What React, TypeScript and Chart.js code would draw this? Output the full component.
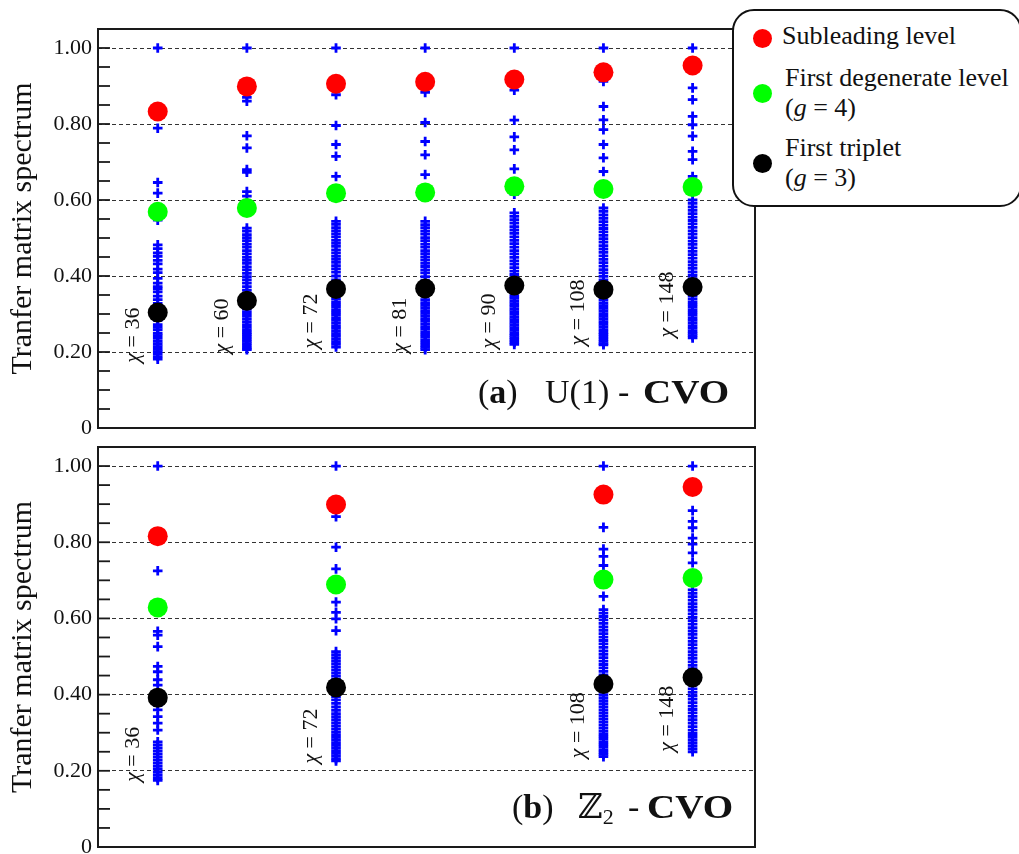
import { useEffect, useRef } from 'react'
import { Chart, registerables } from 'chart.js'

Chart.register(...registerables)

const SERIF = "'Liberation Serif', 'DejaVu Serif', serif"

// ---- panel (a): U(1) - CVO ----
const chiTop = [36, 60, 72, 81, 90, 108, 148]
const posTop = [0, 1, 2, 3, 4, 5, 6]
const subleadingTop = [0.833, 0.899, 0.906, 0.911, 0.917, 0.936, 0.954]
const degenerateTop = [0.569, 0.579, 0.618, 0.62, 0.636, 0.629, 0.634]
const tripletTop = [0.304, 0.335, 0.366, 0.367, 0.375, 0.364, 0.371]
const chiLabelAtTop = [0.172, 0.196, 0.209, 0.198, 0.209, 0.217, 0.238]
const spectrumTop = [
  [1.0, 0.789, 0.646, 0.618, 0.547, 0.482, 0.472, 0.461, 0.452, 0.441, 0.432, 0.418, 0.409, 0.394, 0.381, 0.372, 0.366, 0.358, 0.347, 0.338, 0.328, 0.316, 0.305, 0.292, 0.283, 0.272, 0.265, 0.258, 0.249, 0.243, 0.236, 0.228, 0.221, 0.214, 0.207, 0.201, 0.195, 0.188, 0.181],
  [1.0, 0.87, 0.86, 0.769, 0.737, 0.68, 0.673, 0.622, 0.61, 0.526, 0.518, 0.509, 0.501, 0.493, 0.484, 0.476, 0.467, 0.458, 0.449, 0.441, 0.433, 0.424, 0.416, 0.407, 0.398, 0.39, 0.381, 0.372, 0.363, 0.355, 0.346, 0.337, 0.329, 0.32, 0.312, 0.304, 0.296, 0.288, 0.28, 0.272, 0.265, 0.258, 0.252, 0.246, 0.24, 0.234, 0.228, 0.222, 0.216, 0.21, 0.206],
  [1.0, 0.877, 0.796, 0.746, 0.715, 0.662, 0.544, 0.536, 0.527, 0.519, 0.511, 0.503, 0.494, 0.486, 0.478, 0.469, 0.461, 0.452, 0.444, 0.436, 0.427, 0.419, 0.41, 0.4, 0.39, 0.38, 0.37, 0.36, 0.35, 0.34, 0.332, 0.325, 0.318, 0.311, 0.304, 0.297, 0.29, 0.283, 0.276, 0.269, 0.262, 0.255, 0.248, 0.241, 0.234, 0.227, 0.22, 0.213],
  [1.0, 0.883, 0.804, 0.754, 0.719, 0.667, 0.544, 0.535, 0.527, 0.518, 0.51, 0.501, 0.493, 0.484, 0.476, 0.467, 0.459, 0.45, 0.442, 0.433, 0.425, 0.416, 0.408, 0.398, 0.388, 0.378, 0.368, 0.358, 0.348, 0.338, 0.33, 0.323, 0.316, 0.309, 0.302, 0.295, 0.288, 0.281, 0.274, 0.267, 0.26, 0.253, 0.246, 0.239, 0.232, 0.225, 0.218, 0.212, 0.206],
  [1.0, 0.889, 0.81, 0.766, 0.732, 0.682, 0.615, 0.566, 0.557, 0.548, 0.539, 0.53, 0.521, 0.512, 0.503, 0.494, 0.485, 0.476, 0.467, 0.458, 0.449, 0.44, 0.431, 0.422, 0.413, 0.404, 0.395, 0.385, 0.375, 0.365, 0.356, 0.348, 0.341, 0.334, 0.327, 0.32, 0.313, 0.306, 0.299, 0.292, 0.285, 0.278, 0.271, 0.264, 0.257, 0.25, 0.244, 0.238, 0.232, 0.226, 0.22],
  [1.0, 0.912, 0.846, 0.811, 0.785, 0.746, 0.711, 0.675, 0.579, 0.57, 0.561, 0.552, 0.543, 0.534, 0.525, 0.516, 0.507, 0.498, 0.489, 0.48, 0.471, 0.462, 0.453, 0.444, 0.435, 0.426, 0.417, 0.408, 0.399, 0.39, 0.381, 0.372, 0.363, 0.354, 0.345, 0.337, 0.329, 0.322, 0.315, 0.308, 0.301, 0.294, 0.287, 0.28, 0.273, 0.266, 0.259, 0.252, 0.246, 0.24, 0.234, 0.228, 0.222, 0.219],
  [1.0, 0.895, 0.864, 0.82, 0.798, 0.768, 0.728, 0.706, 0.662, 0.6, 0.591, 0.582, 0.573, 0.564, 0.555, 0.546, 0.537, 0.528, 0.519, 0.51, 0.501, 0.492, 0.483, 0.474, 0.465, 0.456, 0.447, 0.438, 0.429, 0.42, 0.411, 0.402, 0.393, 0.384, 0.375, 0.366, 0.357, 0.348, 0.34, 0.332, 0.325, 0.318, 0.311, 0.304, 0.297, 0.29, 0.283, 0.276, 0.269, 0.262, 0.255, 0.249, 0.243, 0.237],
]

// ---- panel (b): Z2 - CVO ----
const chiBottom = [36, 72, 108, 148]
const posBottom = [0, 2, 5, 6]
const subleadingBottom = [0.816, 0.899, 0.925, 0.945]
const degenerateBottom = [0.629, 0.689, 0.702, 0.706]
const tripletBottom = [0.392, 0.419, 0.428, 0.445]
const chiLabelAtBottom = [0.171, 0.219, 0.233, 0.25]
const spectrumBottom = [
  [1.0, 0.725, 0.566, 0.556, 0.526, 0.474, 0.46, 0.439, 0.425, 0.405, 0.385, 0.372, 0.36, 0.342, 0.325, 0.307, 0.276, 0.268, 0.26, 0.252, 0.244, 0.236, 0.228, 0.22, 0.212, 0.204, 0.196, 0.188, 0.181, 0.175],
  [1.0, 0.867, 0.787, 0.73, 0.643, 0.616, 0.599, 0.568, 0.513, 0.505, 0.497, 0.489, 0.481, 0.473, 0.465, 0.457, 0.449, 0.441, 0.433, 0.425, 0.415, 0.405, 0.395, 0.386, 0.377, 0.368, 0.359, 0.35, 0.342, 0.334, 0.326, 0.318, 0.31, 0.302, 0.295, 0.288, 0.281, 0.274, 0.267, 0.26, 0.253, 0.246, 0.239, 0.232, 0.226],
  [1.0, 0.839, 0.782, 0.763, 0.739, 0.658, 0.623, 0.614, 0.605, 0.596, 0.587, 0.578, 0.569, 0.56, 0.551, 0.542, 0.533, 0.524, 0.515, 0.506, 0.497, 0.488, 0.479, 0.47, 0.461, 0.452, 0.443, 0.434, 0.42, 0.41, 0.4, 0.392, 0.384, 0.376, 0.368, 0.36, 0.352, 0.344, 0.336, 0.328, 0.32, 0.312, 0.304, 0.297, 0.29, 0.283, 0.276, 0.269, 0.262, 0.255, 0.249, 0.243, 0.237],
  [1.0, 0.883, 0.855, 0.838, 0.811, 0.795, 0.772, 0.746, 0.675, 0.666, 0.657, 0.648, 0.639, 0.63, 0.621, 0.612, 0.603, 0.594, 0.585, 0.576, 0.567, 0.558, 0.549, 0.54, 0.531, 0.522, 0.513, 0.504, 0.495, 0.486, 0.477, 0.468, 0.459, 0.45, 0.435, 0.425, 0.415, 0.406, 0.397, 0.388, 0.379, 0.37, 0.361, 0.352, 0.343, 0.334, 0.325, 0.316, 0.307, 0.298, 0.29, 0.282, 0.274, 0.266, 0.258, 0.25],
]

const yLabels = ['0', '0.20', '0.40', '0.60', '0.80', '1.00']
const legendItems = [
  { color: '#ff0000', lines: ['Subleading level'] },
  { color: '#00ff00', lines: ['First degenerate level', '(g = 4)'] },
  { color: '#000000', lines: ['First triplet', '(g = 3)'] },
]

// title pieces; `at` = distance of the piece's left edge from the plot's right edge
type Seg = { t: string; bold?: boolean; sub?: boolean; at?: number; stretch?: number }
const titleTop: Seg[] = [
  { t: '(', at: 277 }, { t: 'a', bold: true }, { t: ')' },
  { t: 'U(1)', at: 210 }, { t: '-', at: 137 }, { t: 'CVO', bold: true, at: 112, stretch: 1.15 },
]
const titleBottom: Seg[] = [
  { t: '(', at: 243 }, { t: 'b', bold: true }, { t: ')' },
  { t: 'ℤ', at: 177 }, { t: '2', sub: true }, { t: '-', at: 127 }, { t: 'CVO', bold: true, at: 108, stretch: 1.15 },
]

type PanelProps = {
  chi: number[]; pos: number[]; red: number[]; green: number[]; black: number[]
  spectrum: number[][]; labelAt: number[]; title: Seg[]; titleRise: number
  top: number; height: number; padTop: number; padBottom: number
}

function Panel(p: PanelProps) {
  const canvasRef = useRef<HTMLCanvasElement>(null)
  const chartRef = useRef<any>(null)

  useEffect(() => {
    if (!canvasRef.current) return
    if (chartRef.current) chartRef.current.destroy()

    const pts = (vals: number[]) => vals.map((v, i) => ({ x: p.pos[i], y: v }))
    const crosses = p.spectrum.flatMap((col, i) => col.map(v => ({ x: p.pos[i], y: v })))

    const decor = {
      id: 'decor',
      afterDraw(chart: any) {
        const { ctx, chartArea: a, scales } = chart
        const x = scales.x, y = scales.y
        ctx.save()
        // inward ticks every 0.05
        ctx.strokeStyle = '#1a1a1a'
        ctx.lineWidth = 1.8
        for (const t of y.ticks) {
          const py = y.getPixelForValue(t.value)
          ctx.beginPath(); ctx.moveTo(a.left, py); ctx.lineTo(a.left + 12, py); ctx.stroke()
        }
        ctx.lineWidth = 2
        ctx.strokeRect(a.left, a.top, a.right - a.left, a.bottom - a.top)

        // chi labels, rotated
        ctx.fillStyle = '#111'
        ctx.textBaseline = 'middle'
        ctx.textAlign = 'left'
        p.chi.forEach((c, i) => {
          const px = x.getPixelForValue(p.pos[i]) - 25
          const py = y.getPixelForValue(p.labelAt[i])
          ctx.save()
          ctx.translate(px, py)
          ctx.rotate(-Math.PI / 2)
          ctx.font = `italic 22px ${SERIF}`
          ctx.fillText('χ', 0, 0)
          const w = ctx.measureText('χ').width
          ctx.font = `22px ${SERIF}`
          ctx.fillText(` = ${c}`, w, 0)
          ctx.restore()
        })

        // panel title
        const base = a.bottom - p.titleRise
        ctx.textBaseline = 'alphabetic'
        let cx = a.right
        for (const s of p.title) {
          ctx.font = s.sub ? `22px ${SERIF}` : `${s.bold ? 'bold ' : ''}34px ${SERIF}`
          if (s.at !== undefined) cx = a.right - s.at
          const k = s.stretch || 1
          ctx.save()
          ctx.translate(cx, s.sub ? base + 6 : base)
          ctx.scale(k, 1)
          ctx.fillText(s.t, 0, 0)
          ctx.restore()
          cx += ctx.measureText(s.t).width * k
        }
        ctx.restore()
      },
    }

    chartRef.current = new Chart(canvasRef.current, {
      type: 'scatter',
      data: {
        datasets: [
          { label: 'Subleading level', data: pts(p.red), backgroundColor: '#ff0000', borderWidth: 0, pointRadius: 10 },
          { label: 'First degenerate level', data: pts(p.green), backgroundColor: '#00ff00', borderWidth: 0, pointRadius: 10 },
          { label: 'First triplet', data: pts(p.black), backgroundColor: '#000000', borderWidth: 0, pointRadius: 10 },
          { label: 'spectrum', data: crosses, pointStyle: 'cross', borderColor: '#0000ff', backgroundColor: '#0000ff', borderWidth: 2.8, pointRadius: 4.8 },
        ],
      },
      options: {
        responsive: true,
        maintainAspectRatio: false,
        animation: false,
        events: [],
        layout: { autoPadding: false, padding: { top: p.padTop, right: 264, bottom: p.padBottom, left: 0 } },
        plugins: { legend: { display: false }, tooltip: { enabled: false } },
        scales: {
          x: { type: 'linear', min: -0.67, max: 6.7, display: false },
          y: {
            min: 0,
            max: 1.05,
            afterFit: (s: any) => { s.width = 98; s.paddingTop = 0; s.paddingBottom = 0 },
            border: { display: false, dash: [4, 3] },
            grid: {
              drawTicks: false,
              lineWidth: 1,
              color: (ctx: any) => {
                const r = Math.round(ctx.tick.value * 100)
                return r > 0 && r <= 100 && r % 20 === 0 ? '#333' : 'rgba(0,0,0,0)'
              },
            },
            ticks: {
              stepSize: 0.05,
              autoSkip: false,
              padding: 6,
              color: '#111',
              font: { family: SERIF, size: 22 },
              callback: (v: any) => {
                const r = Math.round(Number(v) * 100)
                return r % 20 === 0 && r <= 100 ? yLabels[r / 20] : ''
              },
            },
            title: {
              display: true,
              text: 'Tranfer matrix spectrum',
              color: '#111',
              font: { family: SERIF, size: 30 },
              padding: { top: 5, bottom: 0 },
            },
          },
        },
      },
      plugins: [decor],
    } as any)

    return () => { if (chartRef.current) chartRef.current.destroy() }
  }, [])

  return (
    <div style={{ position: 'absolute', left: 0, top: p.top, width: 1019, height: p.height }}>
      <canvas ref={canvasRef} />
    </div>
  )
}

function Legend() {
  const markerTop = [17.5, 72.5, 142.5]
  const textTop = [10.2, 52.2, 122.2]
  return (
    <div style={{
      position: 'absolute', left: 732, top: 9, width: 290, height: 198, boxSizing: 'border-box',
      border: '2px solid #111', borderRadius: 22, background: '#fff', overflow: 'hidden',
      fontFamily: SERIF, fontSize: 26, color: '#111', lineHeight: '30px',
    }}>
      {legendItems.map((it, i) => (
        <div key={i}>
          <div style={{ position: 'absolute', left: 18.5, top: markerTop[i], width: 19, height: 19, borderRadius: '50%', background: it.color }} />
          <div style={{ position: 'absolute', left: i === 0 ? 48 : 51, top: textTop[i], whiteSpace: 'nowrap' }}>
            {it.lines.map((l, j) => (
              <div key={j}>{l.startsWith('(g') ? <>(<i>g</i>{l.slice(2)}</> : l}</div>
            ))}
          </div>
        </div>
      ))}
    </div>
  )
}

export default function App() {
  return (
    <div style={{ position: 'absolute', left: 0, top: 0, width: 1019, height: 854, background: '#fff', overflow: 'hidden' }}>
      <Panel chi={chiTop} pos={posTop} red={subleadingTop} green={degenerateTop} black={tripletTop}
        spectrum={spectrumTop} labelAt={chiLabelAtTop} title={titleTop} titleRise={25}
        top={0} height={440} padTop={29} padBottom={12} />
      <Panel chi={chiBottom} pos={posBottom} red={subleadingBottom} green={degenerateBottom} black={tripletBottom}
        spectrum={spectrumBottom} labelAt={chiLabelAtBottom} title={titleBottom} titleRise={29}
        top={440} height={414} padTop={7} padBottom={7} />
      <Legend />
    </div>
  )
}
